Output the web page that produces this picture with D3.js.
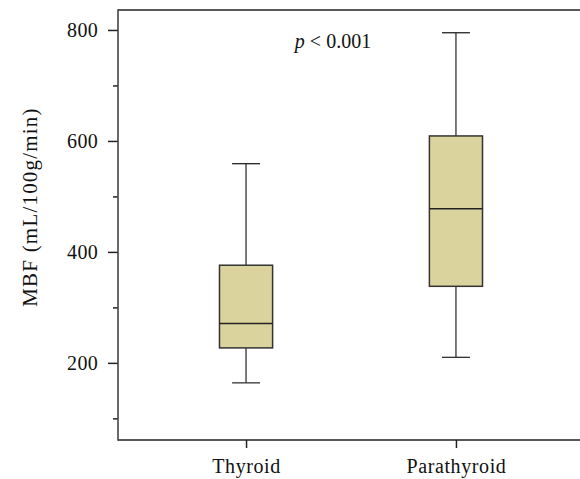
<!DOCTYPE html>
<html>
<head>
<meta charset="utf-8">
<script src="https://cdn.jsdelivr.net/npm/d3@7"></script>
<style>
  body { margin: 0; background: #fff; }
  svg { display: block; }
  text { font-family: 'Liberation Serif', 'Times New Roman', serif; fill: #111; }
</style>
</head>
<body>
<div id="chart"></div>
<script>
const groups = ['Thyroid', 'Parathyroid'];
const mins = [164, 210];
const q1s = [227, 338];
const medians = [271, 478];
const q3s = [376, 609];
const maxs = [559, 795];

const majorTicks = [200, 400, 600, 800];
const minorTicks = [100, 300, 500, 700];

const width = 580;
const height = 479;
const plot = {
  left: 118, right: 584, top: 10, bottom: 440,
};

const svg = d3.select('#chart').append('svg')
  .attr('width', width)
  .attr('height', height);

const x = d3.scalePoint()
  .domain(groups)
  .range([plot.left, plot.right])
  .padding(0.61);

const y = d3.scaleLinear()
  .domain([61, 836])
  .range([plot.bottom, plot.top]);

const boxWidth = x.step() * 0.253;
const capWidth = x.step() * 0.133;

const stats = groups.map((g, i) => ({
  name: g, min: mins[i], q1: q1s[i], med: medians[i], q3: q3s[i], max: maxs[i],
}));

// frame
svg.append('line')
  .attr('x1', plot.left).attr('x2', plot.right)
  .attr('y1', plot.top).attr('y2', plot.top)
  .attr('stroke', '#222').attr('stroke-width', 1.5);
svg.append('line')
  .attr('x1', plot.left).attr('x2', plot.right)
  .attr('y1', plot.bottom).attr('y2', plot.bottom)
  .attr('stroke', '#222').attr('stroke-width', 1.5);

// y axis
const yAxis = svg.append('g')
  .attr('transform', `translate(${plot.left},0)`)
  .call(d3.axisLeft(y).tickValues(majorTicks).tickSize(10).tickPadding(10));
yAxis.select('.domain').remove();
yAxis.selectAll('line').attr('stroke', '#222').attr('stroke-width', 1.5);
yAxis.selectAll('text')
  .style('font-size', '20px')
  .style('letter-spacing', '0.3px')
  .style('font-family', "'Liberation Serif', serif")
  .attr('fill', '#111');

const yMinor = svg.append('g')
  .attr('transform', `translate(${plot.left},0)`)
  .call(d3.axisLeft(y).tickValues(minorTicks).tickSize(5).tickFormat(''));
yMinor.select('.domain').remove();
yMinor.selectAll('line').attr('stroke', '#222').attr('stroke-width', 1.5);

svg.append('line')
  .attr('x1', plot.left).attr('x2', plot.left)
  .attr('y1', plot.top - 0.75).attr('y2', plot.bottom + 0.75)
  .attr('stroke', '#444').attr('stroke-width', 1.6);

// x axis
const xAxis = svg.append('g')
  .attr('transform', `translate(0,${plot.bottom})`)
  .call(d3.axisBottom(x).tickSize(8).tickPadding(11));
xAxis.select('.domain').remove();
xAxis.selectAll('line').attr('stroke', '#222').attr('stroke-width', 1.5);
xAxis.selectAll('text')
  .style('font-size', '20px')
  .style('letter-spacing', '0.6px')
  .style('font-family', "'Liberation Serif', serif")
  .attr('fill', '#111');

// boxes
const box = svg.append('g').selectAll('.box')
  .data(stats)
  .enter()
  .append('g')
  .attr('class', 'box');

box.append('line')
  .attr('x1', (d) => x(d.name)).attr('x2', (d) => x(d.name))
  .attr('y1', (d) => y(d.max)).attr('y2', (d) => y(d.q3))
  .attr('stroke', '#333').attr('stroke-width', 1.3);
box.append('line')
  .attr('x1', (d) => x(d.name)).attr('x2', (d) => x(d.name))
  .attr('y1', (d) => y(d.q1)).attr('y2', (d) => y(d.min))
  .attr('stroke', '#333').attr('stroke-width', 1.3);
box.append('line')
  .attr('x1', (d) => x(d.name) - capWidth / 2).attr('x2', (d) => x(d.name) + capWidth / 2)
  .attr('y1', (d) => y(d.max)).attr('y2', (d) => y(d.max))
  .attr('stroke', '#222').attr('stroke-width', 1.3);
box.append('line')
  .attr('x1', (d) => x(d.name) - capWidth / 2).attr('x2', (d) => x(d.name) + capWidth / 2)
  .attr('y1', (d) => y(d.min)).attr('y2', (d) => y(d.min))
  .attr('stroke', '#333').attr('stroke-width', 1.3);

box.append('rect')
  .attr('x', (d) => x(d.name) - boxWidth / 2)
  .attr('width', boxWidth)
  .attr('y', (d) => y(d.q3))
  .attr('height', (d) => y(d.q1) - y(d.q3))
  .attr('fill', '#dbd39d')
  .attr('stroke', '#333')
  .attr('stroke-width', 1.5);

box.append('line')
  .attr('x1', (d) => x(d.name) - boxWidth / 2).attr('x2', (d) => x(d.name) + boxWidth / 2)
  .attr('y1', (d) => y(d.med)).attr('y2', (d) => y(d.med))
  .attr('stroke', '#222').attr('stroke-width', 1.5);

// p value
const pText = svg.append('text')
  .attr('x', 333)
  .attr('y', 48)
  .attr('text-anchor', 'middle')
  .style('font-size', '20px');
pText.append('tspan').style('font-style', 'italic').text('p');
pText.append('tspan').text(' < 0.001');

// y label
svg.append('text')
  .attr('transform', 'translate(37,207) rotate(-90)')
  .attr('text-anchor', 'middle')
  .style('font-size', '21px')
  .style('letter-spacing', '1.2px')
  .text('MBF (mL/100g/min)');
</script>
</body>
</html>
